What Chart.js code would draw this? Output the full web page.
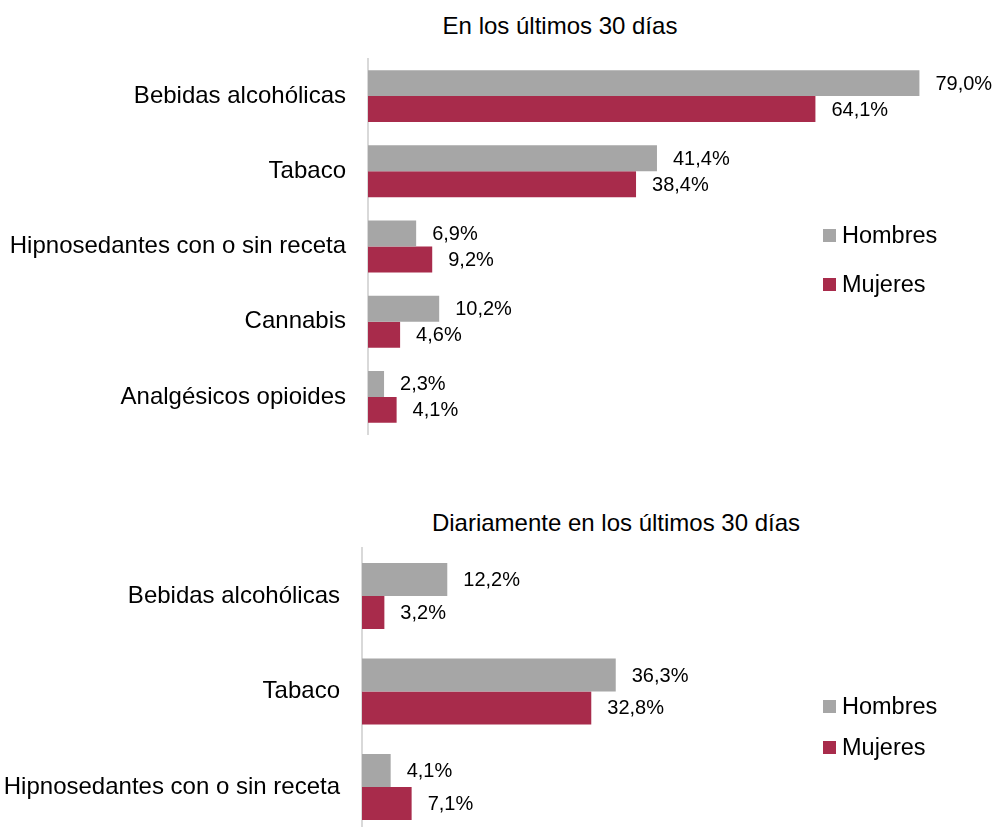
<!DOCTYPE html>
<html>
<head>
<meta charset="utf-8">
<script src="https://cdn.jsdelivr.net/npm/chart.js@4.4.0/dist/chart.umd.min.js"></script>
<style>
  html, body { margin: 0; padding: 0; background: #fff; overflow: hidden; }
  body { width: 997px; height: 827px; position: relative; font-family: "Liberation Sans", Arial, sans-serif; color: #000; }
  canvas { position: absolute; left: 0; }
  .title { position: absolute; font-size: 24px; line-height: 24px; white-space: nowrap; transform: translateX(-50%); }
  .legend { position: absolute; left: 823px; font-size: 23.5px; line-height: 24px; white-space: nowrap; }
  .legend span { display: inline-block; width: 13px; height: 13px; margin-right: 6px; vertical-align: 1px; }
</style>
</head>
<body>
<div class="title" style="left:560px; top:14px;">En los últimos 30 días</div>
<canvas id="chartTop" width="997" height="470" style="top:0px;"></canvas>
<div class="legend" style="top:223px;"><span style="background:#A6A6A6"></span>Hombres</div>
<div class="legend" style="top:272px;"><span style="background:#A82B4B"></span>Mujeres</div>

<div class="title" style="left:616px; top:511px;">Diariamente en los últimos 30 días</div>
<canvas id="chartBottom" width="997" height="340" style="top:500px;"></canvas>
<div class="legend" style="top:694px;"><span style="background:#A6A6A6"></span>Hombres</div>
<div class="legend" style="top:735px;"><span style="background:#A82B4B"></span>Mujeres</div>

<script>
// data
const topCategories = ['Bebidas alcohólicas', 'Tabaco', 'Hipnosedantes con o sin receta', 'Cannabis', 'Analgésicos opioides'];
const topHombres = [79.0, 41.4, 6.9, 10.2, 2.3];
const topMujeres = [64.1, 38.4, 9.2, 4.6, 4.1];

const bottomCategories = ['Bebidas alcohólicas', 'Tabaco', 'Hipnosedantes con o sin receta'];
const bottomHombres = [12.2, 36.3, 4.1];
const bottomMujeres = [3.2, 32.8, 7.1];

const grayColor = '#A6A6A6';
const redColor = '#A82B4B';
const fontFamily = '"Liberation Sans", Arial, sans-serif';

// draws "79,0%" style labels right of each bar
const valueLabels = {
  id: 'valueLabels',
  afterDatasetsDraw(chart) {
    const ctx = chart.ctx;
    ctx.save();
    ctx.font = '20px ' + fontFamily;
    ctx.fillStyle = '#000';
    ctx.textAlign = 'left';
    ctx.textBaseline = 'middle';
    chart.data.datasets.forEach((ds, i) => {
      chart.getDatasetMeta(i).data.forEach((bar, j) => {
        const txt = ds.data[j].toFixed(1).replace('.', ',') + '%';
        ctx.fillText(txt, bar.x + 16, bar.y + 1);
      });
    });
    ctx.restore();
  }
};

function makeChart(canvasId, labels, hombres, mujeres, axisWidth, padding) {
  const ctx = document.getElementById(canvasId).getContext('2d');
  return new Chart(ctx, {
    type: 'bar',
    data: {
      labels: labels,
      datasets: [
        { label: 'Hombres', data: hombres, backgroundColor: grayColor, barPercentage: 1, categoryPercentage: 0.69 },
        { label: 'Mujeres', data: mujeres, backgroundColor: redColor, barPercentage: 1, categoryPercentage: 0.69 }
      ]
    },
    options: {
      indexAxis: 'y',
      responsive: false,
      animation: false,
      devicePixelRatio: 1,
      layout: { padding: padding },
      plugins: {
        legend: { display: false },
        tooltip: { enabled: false }
      },
      scales: {
        x: { display: false, min: 0, max: 80 },
        y: {
          grid: { display: false, drawTicks: false },
          border: { display: true, color: '#D9D9D9', width: 2 },
          ticks: { color: '#000', padding: 22, font: { family: fontFamily, size: 24 } },
          afterFit: (scale) => {
            scale.width = axisWidth;
            // labels sit inside their bands, no extra room needed above/below
            scale.paddingTop = 0;
            scale.paddingBottom = 0;
          }
        }
      }
    },
    plugins: [valueLabels]
  });
}

makeChart('chartTop', topCategories, topHombres, topMujeres, 368, { top: 58.5, bottom: 35.5, left: 0, right: 70.6 });
makeChart('chartBottom', bottomCategories, bottomHombres, bottomMujeres, 362, { top: 48.3, bottom: 5.3, left: 0, right: 75.8 });
</script>
</body>
</html>
